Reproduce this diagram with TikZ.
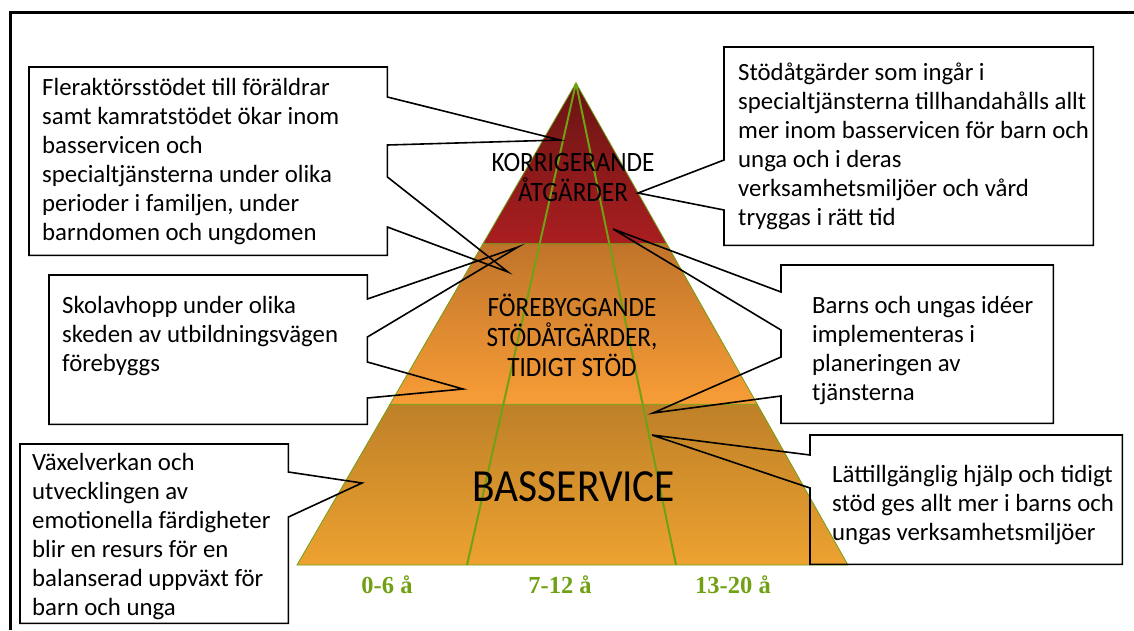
\documentclass[tikz,border=0pt]{standalone}
\usepackage{fontspec}
\setmainfont{Carlito}
\newfontfamily\smalfont{Carlito}[FakeStretch=0.9]
\newfontfamily\aldersfont{Liberation Serif}
\usetikzlibrary{calc,positioning}

\definecolor{gron}{RGB}{112,160,20}
\definecolor{morkrod}{RGB}{104,20,20}
\definecolor{rod}{RGB}{170,30,32}
\definecolor{brun}{RGB}{192,116,42}
\definecolor{ljusorange}{RGB}{248,157,55}
\definecolor{guldbrun}{RGB}{190,128,40}
\definecolor{guld}{RGB}{237,162,48}

\begin{document}
\begin{tikzpicture}[x=1pt, y=-1pt,
        lager/.style={draw=gron, line width=0.8pt},
        grans/.style={draw=gron, line width=2pt},
        niva/.style={align=center, font=\smalfont\fontsize{28}{30}\selectfont},
        alder/.style={text=gron, font=\aldersfont\bfseries\fontsize{24.5}{28}\selectfont},
        ruta/.style={anchor=north west, inner sep=0pt},
        rutatext/.style={align=left, inner sep=0pt, font=\fontsize{24.8}{29}\selectfont},
        bubbla/.style={draw, line width=1.6pt, line join=miter}]
    \useasboundingbox ( 0, 0 ) rectangle ( 1134, 630 );
    % ram
    \draw [line width=3pt] ( 1134, 12 ) -- ( 10, 12 ) -- ( 10, 630 );

    % pyramid
    \coordinate (topp) at ( 576, 83 );
    \coordinate (vb) at ( 297, 565 );
    \coordinate (hb) at ( 848, 565 );
    \coordinate (v1) at ( $(topp)!1/3!(vb)$ );
    \coordinate (h1) at ( $(topp)!1/3!(hb)$ );
    \coordinate (v2) at ( $(topp)!2/3!(vb)$ );
    \coordinate (h2) at ( $(topp)!2/3!(hb)$ );
    \path [lager, top color=guldbrun, bottom color=guld] (v2) -- (h2) -- (hb) -- (vb) -- cycle;
    \path [lager, top color=brun, bottom color=ljusorange] (v1) -- (h1) -- (h2) -- (v2) -- cycle;
    \path [lager, top color=morkrod, bottom color=rod] (topp) -- (h1) -- (v1) -- cycle;
    \coordinate (gb1) at ( 467, 565 );
    \coordinate (gb2) at ( 676, 565 );
    \draw [grans] (topp) -- (gb1);
    \draw [grans] (topp) -- (gb2);

    % nivåer
    \node (korr) [niva] at ( 573, 178 ) {KORRIGERANDE\\ÅTGÄRDER};
    \node (fore) [niva] at ( 572, 335 ) {FÖREBYGGANDE\\STÖDÅTGÄRDER,\\TIDIGT STÖD};
    \node (bas) [font=\smalfont\fontsize{46}{50}\selectfont] at ( 574, 487 ) {BASSERVICE};

    % åldrar
    \node (alder1) [alder] at ( 387, 585 ) {0-6 å};
    \node (alder2) [alder] at ( 560, 585 ) {7-12 å};
    \node (alder3) [alder] at ( 733, 585 ) {13-20 å};

    % rutor
    \node (ruta1) [ruta, minimum width=358pt, minimum height=188pt] at ( 29, 67 ) {};
    \node (text1) [rutatext, right=13pt of ruta1.west] {Fleraktörsstödet till föräldrar\\samt kamratstödet ökar inom\\basservicen och\\specialtjänsterna under olika\\perioder i familjen, under\\barndomen och ungdomen};
    \node (ruta2) [ruta, minimum width=369pt, minimum height=198pt] at ( 724, 47 ) {};
    \node (text2) [rutatext, right=14pt of ruta2.west] {Stödåtgärder som ingår i\\specialtjänsterna tillhandahålls allt\\mer inom basservicen för barn och\\unga och i deras\\verksamhetsmiljöer och vård\\tryggas i rätt tid};
    \node (ruta3) [ruta, minimum width=318pt, minimum height=149pt] at ( 49, 275 ) {};
    \node (text3) [rutatext, right=13pt of ruta3.west, yshift=14pt] {Skolavhopp under olika\\skeden av utbildningsvägen\\förebyggs};
    \node (ruta4) [ruta, minimum width=272pt, minimum height=158pt] at ( 781, 265 ) {};
    \node (text4) [rutatext, right=31pt of ruta4.west, yshift=-6pt] {Barns och ungas idéer\\implementeras i\\planeringen av\\tjänsterna};
    \node (ruta5) [ruta, minimum width=312pt, minimum height=129pt] at ( 810, 435 ) {};
    \node (text5) [rutatext, right=22pt of ruta5.west, yshift=-5pt] {Lättillgänglig hjälp och tidigt\\stöd ges allt mer i barns och\\ungas verksamhetsmiljöer};
    \node (ruta6) [ruta, minimum width=268pt, minimum height=179pt] at ( 20, 444 ) {};
    \node (text6) [rutatext, right=12pt of ruta6.west, yshift=-3pt] {Växelverkan och\\utvecklingen av\\emotionella färdigheter\\blir en resurs för en\\balanserad uppväxt för\\barn och unga};

    % spetsar
    \coordinate (spets1a) at ( 560, 140 );
    \coordinate (spets1b) at ( 508, 272 );
    \coordinate (spets2) at ( 638, 193 );
    \coordinate (spets3a) at ( 518, 247 );
    \coordinate (spets3b) at ( 463, 389 );
    \coordinate (spets4a) at ( 613, 229 );
    \coordinate (spets4b) at ( 653, 413 );
    \coordinate (spets5) at ( 652, 435 );
    \coordinate (spets6) at ( 362, 483 );

    % pratbubblor
    \draw [bubbla] (ruta1.north west) -- (ruta1.north east) -- (ruta1.east |- 0,97) -- (spets1a) -- (ruta1.east |- 0,145)
        -- (ruta1.east |- 0,177) -- (spets1b) -- (ruta1.east |- 0,227) -- (ruta1.south east) -- (ruta1.south west) -- cycle;
    \draw [bubbla] (ruta2.north west) -- (ruta2.north east) -- (ruta2.south east) -- (ruta2.south west)
        -- (ruta2.west |- 0,210) -- (spets2) -- (ruta2.west |- 0,160) -- cycle;
    \draw [bubbla] (ruta3.north west) -- (ruta3.north east) -- (ruta3.east |- 0,299) -- (spets3a) -- (ruta3.east |- 0,337)
        -- (ruta3.east |- 0,362) -- (spets3b) -- (ruta3.east |- 0,398) -- (ruta3.south east) -- (ruta3.south west) -- cycle;
    \draw [bubbla] (ruta4.north west) -- (ruta4.north east) -- (ruta4.south east) -- (ruta4.south west)
        -- (ruta4.west |- 0,396) -- (spets4b) -- (ruta4.west |- 0,357) -- (ruta4.west |- 0,330) -- (spets4a) -- (ruta4.west |- 0,292) -- cycle;
    \draw [bubbla] (ruta5.north west) -- (ruta5.north east) -- (ruta5.south east) -- (ruta5.south west)
        -- (ruta5.west |- 0,488) -- (spets5) -- (ruta5.west |- 0,455) -- cycle;
    \draw [bubbla] (ruta6.north west) -- (ruta6.north east) -- (ruta6.east |- 0,472) -- (spets6) -- (ruta6.east |- 0,517)
        -- (ruta6.south east) -- (ruta6.south west) -- cycle;
\end{tikzpicture}
\end{document}
